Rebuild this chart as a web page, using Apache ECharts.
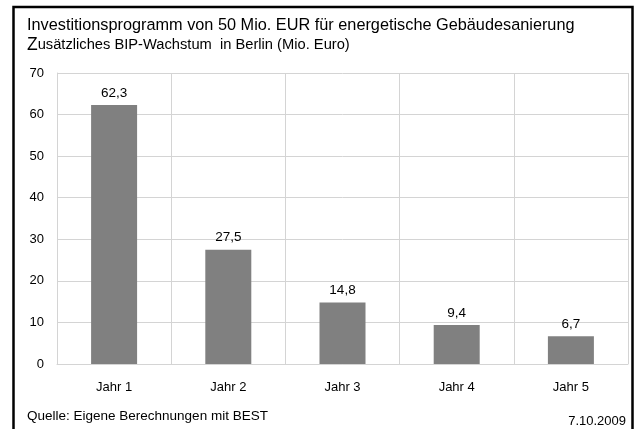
<!DOCTYPE html>
<html>
<head>
<meta charset="utf-8">
<script src="https://cdn.jsdelivr.net/npm/echarts@6/dist/echarts.min.js"></script>
<style>
  html, body { margin: 0; padding: 0; background: #fff; }
  #chart { width: 635px; height: 429px; }
</style>
</head>
<body>
<div id="chart"></div>
<script>
const categories = ['Jahr 1', 'Jahr 2', 'Jahr 3', 'Jahr 4', 'Jahr 5']
const values = [62.3, 27.5, 14.8, 9.4, 6.7]
const yTicks = { min: 0, max: 70, interval: 10 }

const font = '"Liberation Sans", Arial, sans-serif'
const chart = echarts.init(document.getElementById('chart'))

const option = {
  backgroundColor: '#fff',
  animation: false,
  textStyle: { fontFamily: font, color: '#000' },
  graphic: [
    // outer frame
    {
      type: 'rect',
      shape: { x: 13.5, y: 7, width: 619, height: 440 },
      style: { fill: 'none', stroke: '#000', lineWidth: 2.5 }
    },
    {
      type: 'text', left: 27, top: 18,
      style: { text: 'Investitionsprogramm von 50 Mio. EUR für energetische Gebäudesanierung', font: '16.3px ' + font, fill: '#000' }
    },
    {
      type: 'text', left: 27, top: 36,
      style: {
        text: '{z|Z}usätzliches BIP-Wachstum  in Berlin (Mio. Euro)',
        font: '14.7px ' + font, fill: '#000',
        rich: { z: { fontSize: 17.5, fontFamily: font } }
      }
    },
    {
      type: 'text', left: 27, top: 409,
      style: { text: 'Quelle: Eigene Berechnungen mit BEST', font: '13.5px ' + font, fill: '#000' }
    },
    {
      type: 'text', right: 9, top: 415,
      style: { text: '7.10.2009', font: '13px ' + font, fill: '#000' }
    }
  ],
  grid: { left: 57, right: 7, top: 73, bottom: 65 },
  xAxis: {
    type: 'category',
    data: categories,
    axisLine: { show: true, lineStyle: { color: '#d4d4d4', width: 1 } },
    axisTick: { show: false },
    splitLine: { show: true, lineStyle: { color: '#d4d4d4', width: 1 } },
    axisLabel: { color: '#000', fontSize: 13, margin: 17, fontFamily: font }
  },
  yAxis: {
    type: 'value',
    min: yTicks.min,
    max: yTicks.max,
    interval: yTicks.interval,
    axisLine: { show: true, lineStyle: { color: '#d4d4d4', width: 1 } },
    axisTick: { show: false },
    splitLine: { show: true, lineStyle: { color: '#d4d4d4', width: 1 } },
    axisLabel: { color: '#000', fontSize: 13, margin: 13, fontFamily: font }
  },
  series: [{
    type: 'bar',
    data: values,
    barWidth: 46,
    itemStyle: { color: '#808080' },
    label: {
      show: true,
      position: 'top',
      distance: 5,
      color: '#000',
      fontSize: 13.5,
      fontFamily: font,
      formatter: p => String(p.value).replace('.', ',')
    }
  }]
}

chart.setOption(option)
</script>
</body>
</html>
